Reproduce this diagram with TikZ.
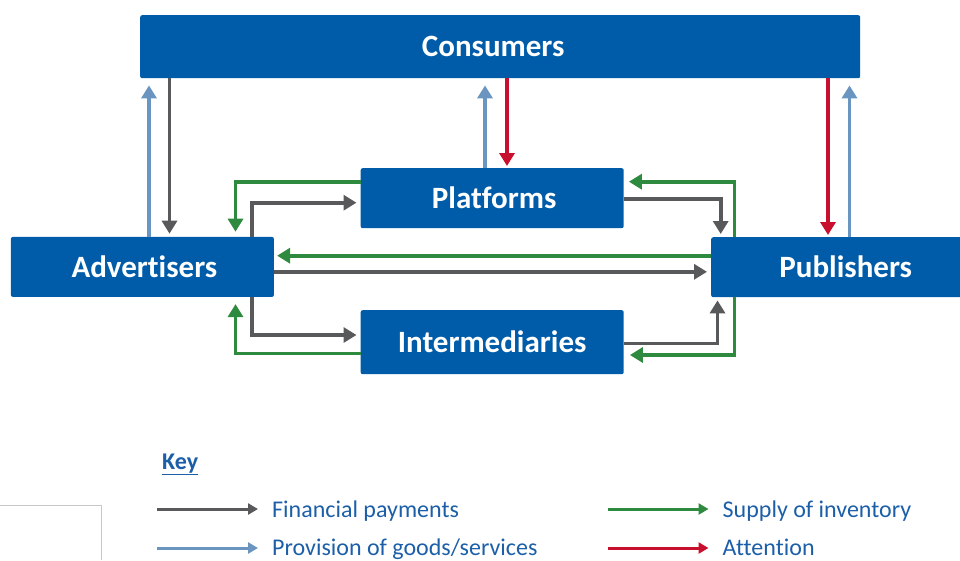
\documentclass[tikz,border=0pt]{standalone}
\usepackage{fontspec}
\setmainfont{Carlito}[Ligatures={NoCommon}]
\usetikzlibrary{arrows.meta,calc}
\definecolor{boxblue}{HTML}{005CA9}
\definecolor{fingray}{HTML}{58595B}
\definecolor{provblue}{HTML}{6A95C0}
\definecolor{supgreen}{HTML}{2D8A3E}
\definecolor{attred}{HTML}{C8102E}
\definecolor{keyblue}{HTML}{1C5FA8}
\definecolor{framegray}{HTML}{C8C8C8}
\tikzset{
  box/.style={fill=boxblue, rounded corners=2pt, text=white, inner sep=0pt,
    font=\bfseries\fontsize{31}{31}\selectfont, anchor=north west},
  conn/.style={line width=3.6pt, -{Triangle[width=15pt,length=13pt]}},
  fin/.style={conn, draw=fingray},
  prov/.style={conn, draw=provblue},
  sup/.style={conn, draw=supgreen},
  att/.style={conn, draw=attred},
  keyarrow/.style={line width=3pt, -{Triangle[width=11pt,length=10pt]}},
  keytext/.style={text=keyblue, inner sep=0pt, anchor=base west,
    font=\fontsize{24}{24}\selectfont},
}
\begin{document}
\begin{tikzpicture}[x=1pt,y=-1pt]
\useasboundingbox (0,0) rectangle (960,560);
% boxes
\node[box, minimum width=720pt, minimum height=63pt] (cons) at (140,15) {Consumers\hspace*{14pt}};
\node[box, minimum width=263pt, minimum height=60pt] (adv) at (10.7,236.7) {\hspace*{4pt}Advertisers};
\node[box, minimum width=263pt, minimum height=60pt] (plat) at (360.5,168) {\hspace*{4pt}Platforms};
\node[box, minimum width=263pt, minimum height=64pt] (int) at (360.5,310) {Intermediaries};
\node[box, minimum width=265pt, minimum height=60pt] (pub) at (711,237) {\hspace*{4pt}Publishers};
% helper coordinates
\coordinate (v1) at (149,0);
\coordinate (v2) at (169.5,0);
\coordinate (v3) at (485,0);
\coordinate (v4) at (507,0);
\coordinate (v5) at (828,0);
\coordinate (v6) at (849.5,0);
\coordinate (s1) at (235.5,181.7);
\coordinate (g1) at (251.7,202.7);
\coordinate (g2) at (720.7,199);
\coordinate (s2) at (734.5,181.7);
\coordinate (s3) at (0,255.7);
\coordinate (g3) at (0,271.8);
\coordinate (g4) at (251.7,335);
\coordinate (s4) at (235.5,353.3);
\coordinate (g5) at (717.5,343.3);
\coordinate (s5) at (734.5,355);
% vertical links to consumers
\draw[prov, shorten >=7pt] (adv.north -| v1) -- (cons.south -| v1);
\draw[fin, shorten >=3pt] (cons.south -| v2) -- (adv.north -| v2);
\draw[prov, shorten >=7pt] (plat.north -| v3) -- (cons.south -| v3);
\draw[att, shorten >=2pt] (cons.south -| v4) -- (plat.north -| v4);
\draw[att, shorten >=2pt] (cons.south -| v5) -- (pub.north -| v5);
\draw[prov, shorten >=7pt] (pub.north -| v6) -- (cons.south -| v6);
% platforms loop
\draw[sup, shorten >=5pt] (plat.west |- s1) -| (adv.north -| s1);
\draw[fin, shorten >=4pt] (adv.north -| g1) |- (plat.west |- g1);
\draw[fin, shorten >=3pt] (plat.east |- g2) -| (pub.north -| g2);
\draw[sup, shorten >=5pt] (pub.north -| s2) |- (plat.east |- s2);
% direct
\draw[sup, shorten >=3pt] (pub.west |- s3) -- (adv.east |- s3);
\draw[fin, shorten >=4pt] (adv.east |- g3) -- (pub.west |- g3);
% intermediaries loop
\draw[fin, shorten >=4pt] (adv.south -| g4) |- (int.west |- g4);
\draw[sup, shorten >=7pt] (int.west |- s4) -| (adv.south -| s4);
\draw[fin, shorten >=3pt] (int.east |- g5) -| (pub.south -| g5);
\draw[sup, shorten >=6pt] (pub.south -| s5) |- (int.east |- s5);
% frame at bottom left
\draw[framegray, line width=1pt] (0,505.5) -- (101,505.5) -- (101,560);
% key
\node[text=keyblue, inner sep=0pt, anchor=base west, font=\bfseries\fontsize{24}{24}\selectfont] (key) at (162,469) {\underline{Key}};
\node[keytext] (k1) at (272,517) {Financial payments};
\node[keytext] (k2) at (272,555) {Provision of goods/services};
\node[keytext] (k3) at (722.5,517) {Supply of inventory};
\node[keytext] (k4) at (722.5,555) {Attention};
\draw[keyarrow, draw=fingray] ([xshift=-115pt,yshift=8pt]k1.base west) -- ([xshift=-14pt,yshift=8pt]k1.base west);
\draw[keyarrow, draw=provblue] ([xshift=-115pt,yshift=7pt]k2.base west) -- ([xshift=-14pt,yshift=7pt]k2.base west);
\draw[keyarrow, draw=supgreen] ([xshift=-115pt,yshift=8pt]k3.base west) -- ([xshift=-14pt,yshift=8pt]k3.base west);
\draw[keyarrow, draw=attred] ([xshift=-115pt,yshift=7pt]k4.base west) -- ([xshift=-14pt,yshift=7pt]k4.base west);
\end{tikzpicture}
\end{document}
